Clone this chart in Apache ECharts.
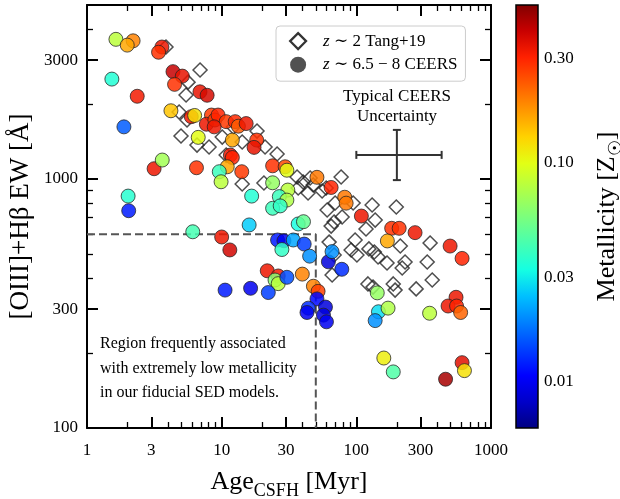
<!DOCTYPE html>
<html>
<head>
<meta charset="utf-8">
<script src="https://cdn.jsdelivr.net/npm/echarts@6.0.0/dist/echarts.min.js"></script>
<style>
  html, body { margin: 0; padding: 0; background: #fff; }
  #chart { width: 620px; height: 499px; }
</style>
</head>
<body>
<div id="chart"></div>
<script>
// z~2 Tang+19 galaxies (open diamonds): age [Myr], [OIII]+Hb EW [A]
const tangAge = [3.86, 6.91, 5.63, 5.44, 4.83, 5.53, 4.99, 6.56, 8.06, 10.1, 12.2, 14.2, 18.3, 21.0, 25.8, 10.8, 14.2, 20.6,
  36.3, 40.3, 45.4, 37.0, 47.8, 55.7, 43.8, 59.7, 77.1, 69.6, 60.7, 94.7, 131, 198, 78.4, 68.4, 65.0, 118, 138, 97.9,
  62.8, 91.5, 101, 124, 136, 145, 169, 212, 353, 230, 219, 336, 366, 278, 188, 194, 122, 133, 66.1, 68.4]
const tangEW = [3390, 2740, 2450, 2174, 1858, 1726, 1488, 1369, 1344, 1474, 1618, 1408, 1558, 1344, 1260, 1248, 955, 964,
  1019, 973, 1009, 920, 946, 895, 879, 920, 1019, 801, 751, 801, 786, 772, 704, 672, 647, 630, 684, 569,
  558, 519, 495, 524, 509, 486, 460, 538, 553, 464, 439, 464, 393, 362, 379, 358, 379, 368, 412, 495]

// z~6.5-8 CEERS galaxies (filled circles): age [Myr], EW [A], metallicity [Zsun]
const ceersAge = [1.64, 2.2, 1.99, 3.6, 3.4, 1.53, 2.36, 1.88, 4.35, 5.1, 4.47, 6.9, 7.8, 4.2, 5.95, 6.3, 6.7, 8.4, 7.7, 8.9,
  9.4, 10.8, 12.6, 13.3, 15.2, 8.8, 12.0, 18.2, 17.4, 11.6, 12.0, 6.5, 11.0, 9.6, 14.1, 9.9, 23.9, 29.6, 30.5, 23.9,
  31, 16.7, 26.8, 51, 65, 3.15, 3.62, 2.02, 2.04, 6.1, 30.5, 23.9, 27.2, 37, 40.5, 16, 10, 11.5, 26, 29,
  34, 28, 41, 45, 21.8, 26.3, 24.9, 26.3, 30.5, 39.7, 10.6, 16.4, 22.2, 48, 52, 51, 59, 44, 57, 60,
  43, 62, 66, 78, 82, 84, 109, 183, 208, 273, 170, 497, 610, 143, 146, 172, 138, 350, 550, 480,
  555, 595, 160, 188, 610, 635, 460]
const ceersEW = [3640, 3590, 3450, 3390, 3230, 2520, 2150, 1620, 2700, 2590, 2400, 2240, 2170, 1880, 1780, 1800, 1470, 1807, 1660, 1726,
  1807, 1700, 1700, 1630, 1670, 1620, 1434, 1434, 1340, 1248, 1220, 1110, 1120, 1070, 1070, 975, 1130, 1120, 1085, 966,
  903, 854, 850, 1016, 925, 1100, 1192, 854, 746, 614, 823, 763, 780, 660, 674, 654, 585, 519, 569, 565,
  569, 521, 548, 490, 428, 408, 393, 380, 403, 415, 358, 364, 350, 371, 354, 330, 306, 303, 284, 267,
  291, 465, 511, 434, 845, 800, 710, 634, 634, 609, 564, 538, 480, 349, 293, 303, 270, 289, 335, 309,
  309, 291, 191, 168, 183, 170, 157]
const ceersZ = [0.08, 0.19, 0.16, 0.33, 0.28, 0.035, 0.32, 0.016, 0.40, 0.34, 0.28, 0.34, 0.37, 0.14, 0.32, 0.12, 0.10, 0.27, 0.33, 0.27,
  0.30, 0.27, 0.29, 0.23, 0.33, 0.33, 0.16, 0.28, 0.34, 0.33, 0.30, 0.28, 0.16, 0.04, 0.27, 0.08, 0.28, 0.25, 0.10, 0.065,
  0.08, 0.035, 0.04, 0.2, 0.3, 0.33, 0.07, 0.036, 0.012, 0.042, 0.075, 0.04, 0.038, 0.033, 0.05, 0.026, 0.33, 0.38, 0.012, 0.01,
  0.022, 0.038, 0.014, 0.02, 0.33, 0.32, 0.06, 0.08, 0.015, 0.19, 0.012, 0.01, 0.014, 0.19, 0.26, 0.011, 0.009, 0.013, 0.009, 0.01,
  0.01, 0.009, 0.02, 0.013, 0.2, 0.2, 0.33, 0.28, 0.28, 0.33, 0.16, 0.33, 0.3, 0.065, 0.028, 0.075, 0.02, 0.08, 0.33, 0.33,
  0.3, 0.22, 0.11, 0.045, 0.35, 0.12, 0.45]

// low-metallicity region boundary (dashed)
const regionAge = [1, 50, 50]
const regionEW = [600, 600, 100]

// typical CEERS uncertainty: [age, EW, ageLo, ageHi, ewLo, ewHi]
const errBar = [200, 1250, 100, 430, 990, 1575]

// ticks
const xMajor = [1, 3, 10, 30, 100, 300, 1000]
const xMinor = [2, 4, 5, 6, 7, 8, 9, 20, 40, 50, 60, 70, 80, 90, 200, 400, 500, 600, 700, 800, 900]
const yMajor = [100, 300, 1000, 3000]
const yMinor = [200, 400, 500, 600, 700, 800, 900, 2000, 4000]
const cbMajor = [0.01, 0.03, 0.1, 0.3]
const cbMinor = [0.02, 0.04, 0.05, 0.06, 0.07, 0.08, 0.09, 0.2, 0.4]
const cbMin = 0.00615
const cbMax = 0.525

// jet colormap samples
const jet = ['#000080', '#0000c8', '#0000ff', '#0040ff', '#0080ff', '#00c0ff', '#15ffe2', '#48ffaf', '#7cff7c',
  '#afff48', '#e2ff15', '#ffd200', '#ff9700', '#ff5c00', '#ff2100', '#c80000', '#800000']

const FONT = '"Liberation Serif", "DejaVu Serif", serif'
const lg = Math.log10
const tangName = 'z ∼ 2 Tang+19'
const ceersName = 'z ∼ 6.5 − 8 CEERS'

const chart = echarts.init(document.getElementById('chart'))

const titleStyle = {
  fontFamily: FONT, fontSize: 26, color: '#000', lineHeight: 36,
  rich: { sub: { fontFamily: FONT, fontSize: 18, lineHeight: 18, verticalAlign: 'bottom', color: '#000' } }
}
const labelStyle = { fontFamily: FONT, fontSize: 17, color: '#000' }

// value axis (log10 space) only used to draw ticks / labels
function tickAxis(pos, grid, min, max, values, len, width, extra) {
  return Object.assign({
    type: 'value', gridIndex: grid, position: pos, min: min, max: max,
    splitLine: { show: false },
    axisLine: { show: false, onZero: false },
    axisTick: { inside: true, length: len, lineStyle: { color: '#000', width: width }, customValues: values.map(lg) },
    axisLabel: { show: false }
  }, extra || {})
}

const option = {
  animation: false,
  backgroundColor: '#fff',
  grid: [
    { left: 87, right: 129, top: 5, bottom: 71, containLabel: false, outerBoundsMode: 'none' },
    { left: 516, width: 22, top: 5, bottom: 71, containLabel: false, outerBoundsMode: 'none' }
  ],
  legend: {
    left: 276, top: 26, orient: 'vertical',
    padding: [6, 8, 8, 13], itemGap: 6, itemWidth: 16, itemHeight: 16,
    borderColor: '#ccc', borderWidth: 1, borderRadius: 4, backgroundColor: 'rgba(255,255,255,0.8)',
    data: [
      { name: tangName, icon: 'diamond', itemStyle: { color: 'rgba(0,0,0,0)', borderColor: '#000', borderWidth: 2.2 } },
      { name: ceersName, icon: 'circle', itemStyle: { color: '#333', borderWidth: 0 } }
    ],
    formatter: name => '{i|z}' + name.slice(1),
    textStyle: Object.assign({}, labelStyle, { padding: [0, 0, 0, 12], rich: { i: { fontFamily: FONT, fontSize: 17, fontStyle: 'italic', color: '#000' } } })
  },
  visualMap: {
    type: 'continuous', show: false, seriesIndex: 2, dimension: 2,
    min: lg(cbMin), max: lg(cbMax), inRange: { color: jet }
  },
  xAxis: [
    {
      type: 'log', logBase: 10, gridIndex: 0, min: 1, max: 1000, position: 'bottom',
      axisLine: { onZero: false, lineStyle: { color: '#000', width: 2 } },
      axisTick: { show: false }, axisLabel: { show: false }, splitLine: { show: false },
      name: 'Age{sub|CSFH} [Myr]', nameLocation: 'middle', nameGap: 36, nameTextStyle: titleStyle
    },
    tickAxis('bottom', 0, 0, 3, xMajor, 11, 2, {
      axisLabel: Object.assign({ customValues: xMajor.map(lg), margin: 14, formatter: v => Math.round(Math.pow(10, v)) }, labelStyle)
    }),
    tickAxis('bottom', 0, 0, 3, xMinor, 6, 1.3),
    tickAxis('top', 0, 0, 3, xMajor, 11, 2, { axisLine: { show: true, onZero: false, lineStyle: { color: '#000', width: 2 } } }),
    tickAxis('top', 0, 0, 3, xMinor, 6, 1.3),
    { type: 'value', gridIndex: 1, min: 0, max: 1, show: false }
  ],
  yAxis: [
    {
      type: 'log', logBase: 10, gridIndex: 0, min: 100, max: 5000, position: 'left',
      axisLine: { onZero: false, lineStyle: { color: '#000', width: 2 } },
      axisTick: { show: false }, axisLabel: { show: false }, splitLine: { show: false },
      name: '[OIII]+Hβ EW [Å]', nameLocation: 'middle', nameGap: 48, nameRotate: 90,
      nameTextStyle: Object.assign({}, titleStyle, { fontSize: 27 })
    },
    tickAxis('left', 0, 2, lg(5000), yMajor, 11, 2, {
      axisLabel: Object.assign({ customValues: yMajor.map(lg), margin: 9, formatter: v => Math.round(Math.pow(10, v)) }, labelStyle)
    }),
    tickAxis('left', 0, 2, lg(5000), yMinor, 6, 1.3),
    tickAxis('right', 0, 2, lg(5000), yMajor, 11, 2, { axisLine: { show: true, onZero: false, lineStyle: { color: '#000', width: 2 } } }),
    tickAxis('right', 0, 2, lg(5000), yMinor, 6, 1.3),
    {
      type: 'log', logBase: 10, gridIndex: 1, min: cbMin, max: cbMax, position: 'right',
      axisLine: { show: false, onZero: false }, axisTick: { show: false }, axisLabel: { show: false }, splitLine: { show: false },
      name: 'Metallicity [Z{sub|☉}]', nameLocation: 'middle', nameGap: 51, nameRotate: 90, nameTextStyle: titleStyle
    },
    tickAxis('right', 1, lg(cbMin), lg(cbMax), cbMajor, 9, 2, {
      axisLabel: Object.assign({ customValues: cbMajor.map(lg), margin: 6, formatter: v => Math.pow(10, v).toFixed(2) }, labelStyle)
    }),
    tickAxis('right', 1, lg(cbMin), lg(cbMax), cbMinor, 5, 1.3)
  ],
  graphic: [
    {
      type: 'text', x: 397, y: 87,
      style: { text: 'Typical CEERS\nUncertainty', align: 'center', verticalAlign: 'top', fontFamily: FONT, fontSize: 17, lineHeight: 20, fill: '#000' }
    },
    {
      type: 'text', x: 100, y: 332,
      style: {
        text: 'Region frequently associated\nwith extremely low metallicity\nin our fiducial SED models.',
        align: 'left', verticalAlign: 'top', fontFamily: FONT, fontSize: 16, lineHeight: 24.5, fill: '#000'
      }
    }
  ],
  series: [
    {
      type: 'line', xAxisIndex: 0, yAxisIndex: 0, silent: true, symbol: 'none', z: 1,
      lineStyle: { color: '#555', width: 2, type: [8, 4] },
      data: regionAge.map((a, i) => [a, regionEW[i]])
    },
    {
      name: tangName, type: 'scatter', xAxisIndex: 0, yAxisIndex: 0, symbol: 'diamond', symbolSize: 14, z: 2,
      itemStyle: { color: 'rgba(0,0,0,0)', borderColor: '#222', borderWidth: 1.5 },
      data: tangAge.map((a, i) => [a, tangEW[i]])
    },
    {
      name: ceersName, type: 'scatter', xAxisIndex: 0, yAxisIndex: 0, symbol: 'circle', symbolSize: 14, z: 3,
      itemStyle: { opacity: 0.85, borderColor: '#222', borderWidth: 0.9 },
      data: ceersAge.map((a, i) => [a, ceersEW[i], lg(ceersZ[i])])
    },
    {
      type: 'custom', xAxisIndex: 0, yAxisIndex: 0, silent: true, z: 4,
      data: [errBar],
      renderItem: function (params, api) {
        const l = api.coord([api.value(2), api.value(1)])
        const r = api.coord([api.value(3), api.value(1)])
        const b = api.coord([api.value(0), api.value(4)])
        const t = api.coord([api.value(0), api.value(5)])
        const cap = 4
        const st = { stroke: '#333', lineWidth: 2 }
        return {
          type: 'group',
          children: [
            { type: 'line', shape: { x1: l[0], y1: l[1], x2: r[0], y2: r[1] }, style: st },
            { type: 'line', shape: { x1: b[0], y1: b[1], x2: t[0], y2: t[1] }, style: st },
            { type: 'line', shape: { x1: l[0], y1: l[1] - cap, x2: l[0], y2: l[1] + cap }, style: st },
            { type: 'line', shape: { x1: r[0], y1: r[1] - cap, x2: r[0], y2: r[1] + cap }, style: st },
            { type: 'line', shape: { x1: b[0] - cap, y1: b[1], x2: b[0] + cap, y2: b[1] }, style: st },
            { type: 'line', shape: { x1: t[0] - cap, y1: t[1], x2: t[0] + cap, y2: t[1] }, style: st }
          ]
        }
      }
    },
    {
      // colorbar
      type: 'custom', xAxisIndex: 5, yAxisIndex: 5, silent: true,
      data: [[0.5, 0.05]],
      renderItem: function (params, api) {
        const p0 = api.coord([0, cbMin])
        const p1 = api.coord([1, cbMax])
        return {
          type: 'rect',
          shape: { x: p0[0], y: p1[1], width: p1[0] - p0[0], height: p0[1] - p1[1] },
          style: {
            fill: new echarts.graphic.LinearGradient(0, 1, 0, 0, jet.map((c, i) => ({ offset: i / (jet.length - 1), color: c }))),
            stroke: '#000', lineWidth: 1.5
          }
        }
      }
    }
  ]
}

chart.setOption(option)
</script>
</body>
</html>
